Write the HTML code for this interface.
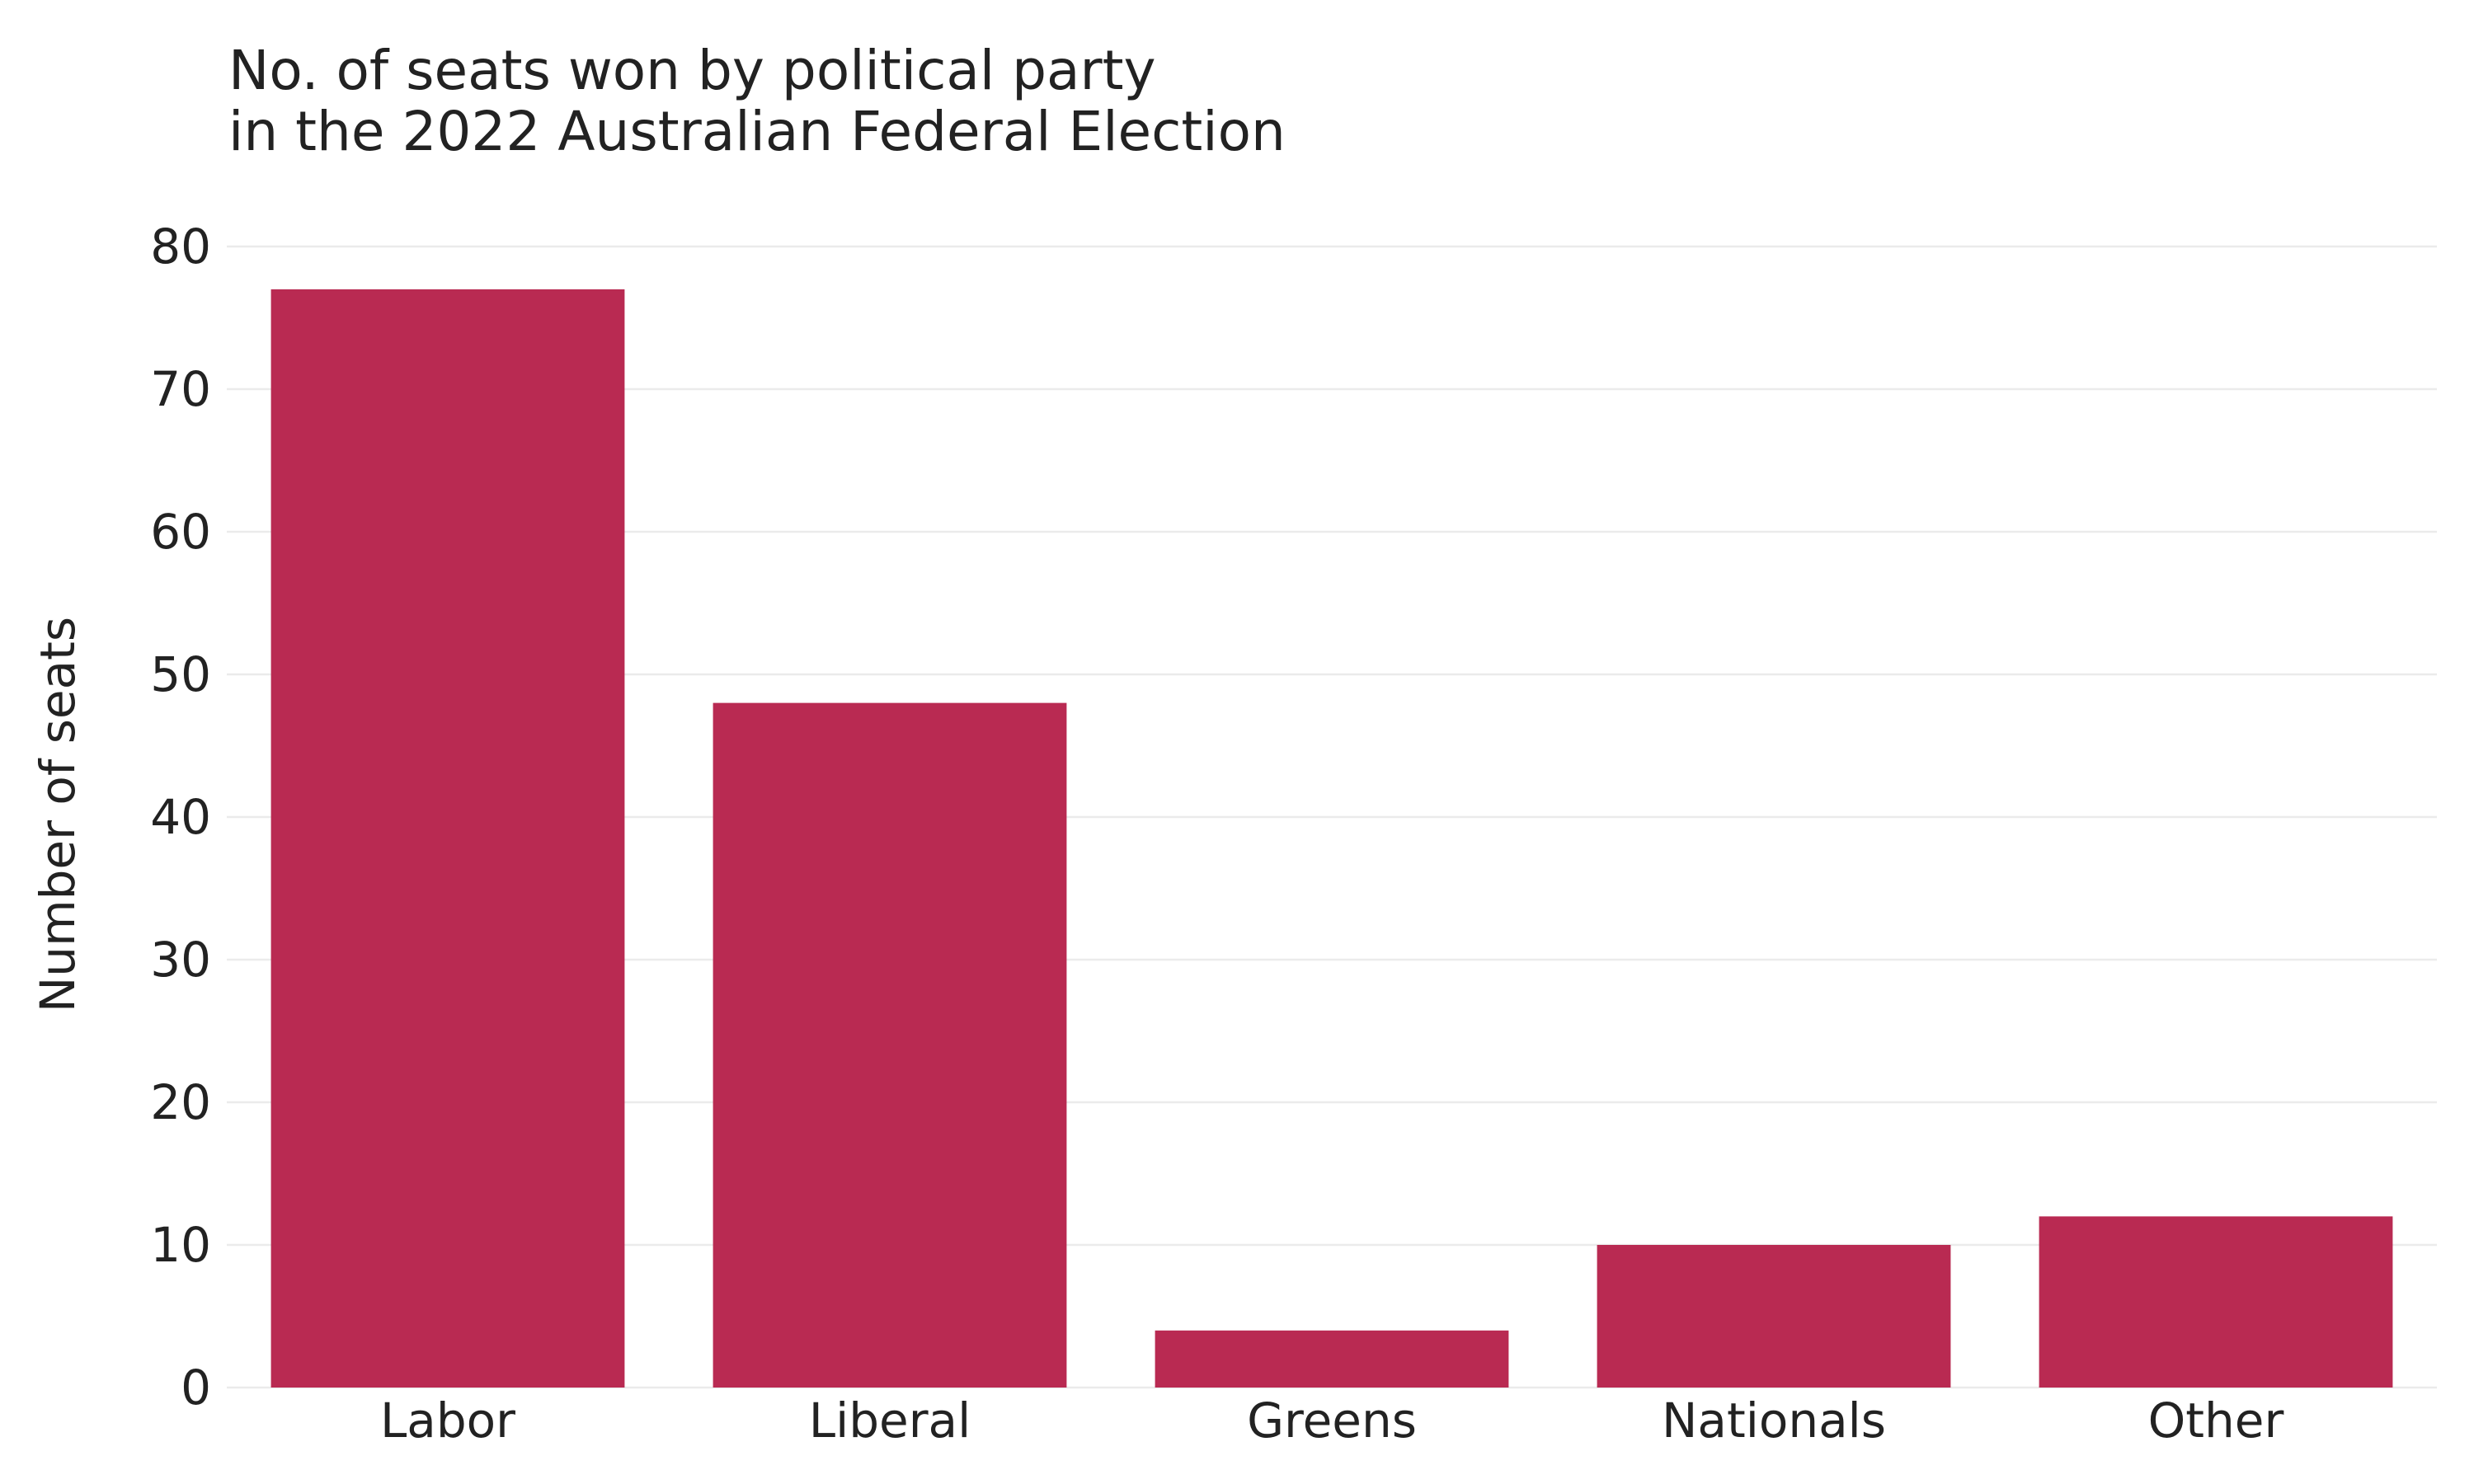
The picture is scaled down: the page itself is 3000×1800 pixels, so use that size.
<!DOCTYPE html>
<html><head><meta charset="utf-8">
<style>
html,body{margin:0;padding:0;background:#fff;}
svg{display:block;font-family:"DejaVu Sans","Liberation Sans",sans-serif;}
</style></head>
<body>
<svg id="chart" width="3000" height="1800" viewBox="0 0 3000 1800" xmlns="http://www.w3.org/2000/svg">
<rect width="3000" height="1800" fill="#fff"/>
<text x="277" y="108" font-size="66" fill="#222">No. of seats won by political party</text>
<text x="277" y="182" font-size="66" fill="#222">in the 2022 Australian Federal Election</text>
<text transform="translate(90,988) rotate(-90)" text-anchor="middle" font-size="58" fill="#222">Number of seats</text>
<g id="grid"></g><g id="bars"></g><g id="yticks"></g><g id="xticks"></g>
</svg>
<script>
const categories=["Labor","Liberal","Greens","Nationals","Other"];
const seats=[77,48,4,10,12];
const yTicks=[0,10,20,30,40,50,60,70,80];
const L=275,R=2955,Y0=1683,Y80=299;
function y(v){return Y0+(Y80-Y0)*v/80;}
const band=(R-L)/categories.length;
function x(i){return L+band*i+band*0.1;}
const bw=band*0.8;
const ns="http://www.w3.org/2000/svg";
function mk(t,a){const e=document.createElementNS(ns,t);for(const k in a)e.setAttribute(k,a[k]);return e;}
const g=document.getElementById('grid'),b=document.getElementById('bars'),yt=document.getElementById('yticks'),xt=document.getElementById('xticks');
yTicks.forEach(v=>{
 const ln=mk('line',{x1:L,x2:R,y1:y(v),y2:y(v),stroke:'#ebebeb','stroke-width':2.5});
 
 
 g.appendChild(ln);
 const t=mk('text',{x:256,y:y(v)+20,'text-anchor':'end','font-size':58,fill:'#222'});
 t.textContent=v;
 
 
 yt.appendChild(t);
});
categories.forEach((c,i)=>{
 const r=mk('rect',{x:x(i),y:y(seats[i]),width:bw,height:Y0-y(seats[i]),fill:'#B92A52'});
 
 
 b.appendChild(r);
 const t=mk('text',{x:x(i)+bw/2,y:1743,'text-anchor':'middle','font-size':58,fill:'#222'});
 t.textContent=c;
 
 
 xt.appendChild(t);
});
</script>
</body></html>
